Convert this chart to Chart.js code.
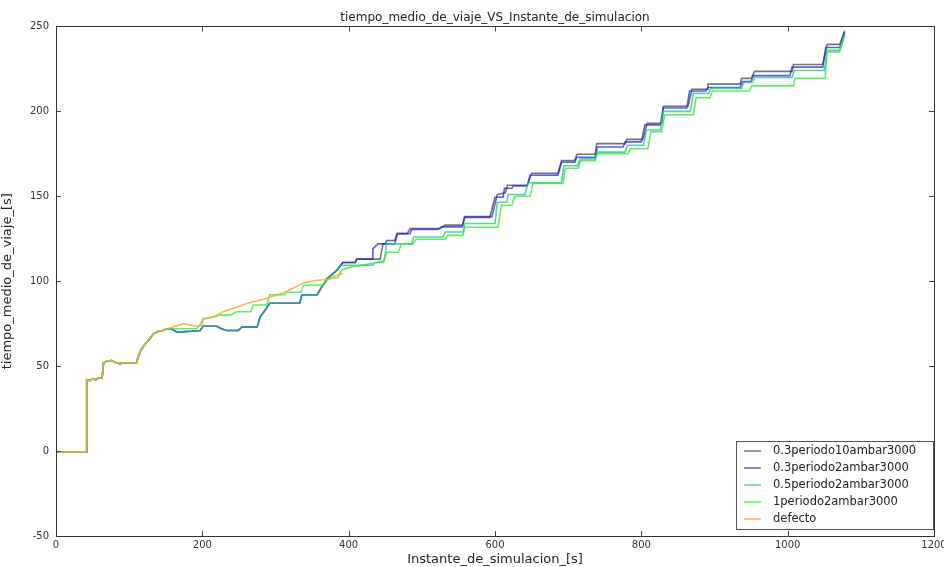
<!DOCTYPE html>
<html>
<head>
<meta charset="utf-8">
<script src="https://cdn.jsdelivr.net/npm/chart.js@4"></script>
<style>
  body { margin: 0; background: #fff; }
  #wrap { width: 944px; height: 567px; }
</style>
</head>
<body>
<div id="wrap"><canvas id="grafico"></canvas></div>
<script>
// tramo comun a todas las simulaciones (0 - 152 s)
const inicioX = [0, 42, 42, 46, 50, 55, 58, 63, 65, 70, 76, 82, 87, 95, 110, 112, 116, 122, 128, 133, 140, 146, 152]
const inicioY = [-0.5, -0.5, 42, 41.5, 42.5, 42, 43, 43, 52, 53, 53.3, 52, 51.5, 52, 52, 55, 59.5, 63, 66, 69, 70.5, 71, 72]

// tramo compartido por los casos 0.3 y 0.5 hasta ~430 s
const subidaX = [156, 160, 165, 185, 197, 201, 220, 226, 233, 249, 254, 275, 279, 286, 292, 333, 336, 357, 363, 372, 384, 392, 409, 411, 432]
const subidaY = [72, 71.5, 70, 70.5, 71, 73.5, 73.5, 72, 71, 71, 73, 73, 79, 83, 87, 87, 92, 92, 96.5, 102, 106.5, 111, 111, 113, 113]

const gris10X = [443, 447, 463, 467, 480, 484, 525, 532, 556, 559, 596, 603, 614, 617, 644, 650, 686, 691, 709, 712, 737, 739, 778, 780, 802, 808, 828, 830, 864, 869, 890, 891, 935, 937, 950, 955, 1006, 1008, 1048, 1054, 1071, 1078]
const gris10Y = [113, 122, 122, 128, 128, 131, 131, 133, 133, 138, 138, 151, 152, 156.5, 156.5, 163.5, 163.5, 171, 171, 174.7, 174.7, 181, 181, 183.5, 183.5, 193, 193, 203, 203, 213, 213, 216, 216, 219.4, 219.4, 223.5, 223.5, 227.6, 227.6, 239.4, 239.4, 247.6]

const azul2X = [433, 440, 450, 452, 463, 466, 484, 486, 522, 527, 555, 558, 593, 600, 611, 613, 623, 625, 644, 648, 686, 691, 709, 712, 737, 740, 775, 778, 800, 805, 826, 830, 862, 866, 888, 891, 935, 938, 950, 953, 1003, 1006, 1048, 1052, 1071, 1078]
const azul2Y = [119, 122, 122, 124, 124, 128, 128, 130.5, 130.5, 132, 132, 137.6, 137.6, 149.4, 149.4, 154.7, 154.7, 156, 156, 162.4, 162.4, 170, 170, 173, 173, 179, 179, 182, 182, 192, 192, 202, 202, 212, 212, 214, 214, 217.6, 217.6, 221, 221, 226, 226, 237.6, 237.6, 246.5]

const turquesaX = [388, 433, 436, 448, 452, 486, 489, 529, 532, 556, 559, 600, 603, 616, 618, 641, 645, 691, 694, 713, 716, 737, 740, 778, 781, 803, 807, 826, 830, 867, 871, 892, 895, 937, 940, 952, 955, 1006, 1009, 1050, 1054, 1071, 1078]
const turquesaY = [109.4, 109.4, 111, 111, 122, 122, 126, 126, 129, 129, 134, 134, 146.5, 146.5, 151, 151, 158, 158, 168, 168, 172, 172, 176, 176, 180, 180, 189, 189, 200, 200, 210.6, 210.6, 213.5, 213.5, 217, 217, 220, 220, 224, 224, 236, 236, 245]

const verdeX = [160, 192, 196, 201, 220, 222, 238, 247, 266, 270, 288, 292, 313, 315, 335, 338, 366, 370, 385, 390, 400, 433, 448, 452, 468, 472, 488, 492, 532, 535, 556, 559, 604, 609, 623, 627, 648, 652, 693, 696, 714, 717, 737, 740, 782, 785, 809, 813, 828, 832, 871, 875, 894, 897, 948, 951, 1008, 1010, 1051, 1054, 1071, 1078]
const verdeY = [72, 72, 74, 77.6, 79.4, 80, 80, 82, 82, 86, 86, 92, 92, 93.5, 93.5, 97.6, 97.6, 102, 102, 106.5, 108, 110.6, 112, 117, 117, 122, 122, 124.7, 124.7, 127, 127, 131.8, 131.8, 144.7, 144.7, 150, 150, 157.6, 157.6, 166.5, 166.5, 171, 171, 175, 175, 178, 178, 188, 188, 198, 198, 208, 208, 212, 212, 215, 215, 219.4, 219.4, 235, 235, 244.7]

const defectoX = [160, 174, 192, 200, 201, 215, 228, 242, 262, 285, 310, 325, 338, 357, 374, 380, 388, 392]
const defectoY = [73, 75, 73.5, 74, 78, 79, 82, 84, 87, 89.5, 93, 96, 99, 100.6, 101, 103, 104, 104.5]

const etiquetas = ['0.3periodo10ambar3000', '0.3periodo2ambar3000', '0.5periodo2ambar3000', '1periodo2ambar3000', 'defecto']
const colores = ['rgba(70,70,70,0.75)', 'rgba(30,30,225,0.72)', 'rgba(40,190,150,0.75)', 'rgba(35,240,35,0.75)', 'rgba(255,165,60,0.85)']

function puntos(xs, ys) {
  return xs.map((x, i) => ({ x: x, y: ys[i] }))
}

const comun = puntos(inicioX, inicioY)
const subida = puntos(subidaX, subidaY)

const series = [
  comun.concat(subida, puntos(gris10X, gris10Y)),
  comun.concat(subida, puntos(azul2X, azul2Y)),
  comun.concat(subida.slice(0, 21), puntos(turquesaX, turquesaY)),
  comun.concat(puntos(verdeX, verdeY)),
  comun.concat(puntos(defectoX, defectoY))
]

// marco completo y marcas de ticks hacia dentro en los cuatro lados
const marco = {
  id: 'marco',
  afterDatasetsDraw(chart) {
    const { ctx, chartArea: a, scales: { x, y } } = chart
    ctx.save()
    ctx.strokeStyle = '#444'
    ctx.lineWidth = 1
    ctx.beginPath()
    x.ticks.forEach(t => {
      const px = Math.round(x.getPixelForValue(t.value)) + 0.5
      ctx.moveTo(px, a.bottom); ctx.lineTo(px, a.bottom - 5)
      ctx.moveTo(px, a.top); ctx.lineTo(px, a.top + 5)
    })
    y.ticks.forEach(t => {
      const py = Math.round(y.getPixelForValue(t.value)) + 0.5
      ctx.moveTo(a.left, py); ctx.lineTo(a.left + 5, py)
      ctx.moveTo(a.right, py); ctx.lineTo(a.right - 5, py)
    })
    ctx.stroke()
    ctx.strokeStyle = '#333'
    ctx.strokeRect(Math.round(a.left) + 0.5, Math.round(a.top) + 0.5, Math.round(a.right - a.left), Math.round(a.bottom - a.top))
    ctx.restore()
  }
}

// leyenda en la esquina inferior derecha, dentro del area
const leyenda = {
  id: 'leyenda',
  afterDraw(chart) {
    const { ctx, chartArea: a } = chart
    const w = 197, h = 88
    const x0 = a.right - w - 1, y0 = a.bottom - h - 7
    ctx.save()
    ctx.fillStyle = '#fff'
    ctx.fillRect(x0, y0, w, h)
    ctx.strokeStyle = '#555'
    ctx.lineWidth = 1
    ctx.strokeRect(x0 + 0.5, y0 + 0.5, w, h)
    ctx.font = '11.5px "DejaVu Sans"'
    ctx.textBaseline = 'middle'
    chart.data.datasets.forEach((ds, i) => {
      const yy = y0 + 10 + i * 17
      ctx.strokeStyle = ds.borderColor
      ctx.lineWidth = 1.5
      ctx.beginPath()
      ctx.moveTo(x0 + 8, yy); ctx.lineTo(x0 + 25, yy)
      ctx.stroke()
      ctx.fillStyle = '#222'
      ctx.fillText(ds.label, x0 + 37, yy)
    })
    ctx.restore()
  }
}

new Chart(document.getElementById('grafico'), {
  type: 'line',
  data: {
    datasets: series.map((d, i) => ({
      label: etiquetas[i],
      data: d,
      borderColor: colores[i],
      borderWidth: 1.6,
      pointRadius: 0,
      tension: 0,
      order: series.length - 1 - i
    }))
  },
  options: {
    responsive: true,
    maintainAspectRatio: false,
    animation: false,
    layout: { padding: { right: 10 } },
    plugins: {
      legend: { display: false },
      tooltip: { enabled: false },
      title: {
        display: true,
        fullSize: false,
        text: 'tiempo_medio_de_viaje_VS_Instante_de_simulacion',
        color: '#222',
        font: { family: 'DejaVu Sans', size: 12, weight: 'normal' },
        padding: { top: 11, bottom: 1 }
      }
    },
    scales: {
      x: {
        type: 'linear',
        min: 0,
        max: 1200,
        ticks: { stepSize: 200, color: '#333', font: { family: 'DejaVu Sans', size: 10 }, padding: 3, maxRotation: 0, callback: v => String(v) },
        grid: { display: false, drawTicks: false },
        border: { display: false },
        title: { display: true, text: 'Instante_de_simulacion_[s]', color: '#222', font: { family: 'DejaVu Sans', size: 13 }, padding: { top: 1, bottom: 0 } },
        afterFit: s => { s.height = 31; s.paddingLeft = 0; s.paddingRight = 0 }
      },
      y: {
        min: -50,
        max: 250,
        ticks: { stepSize: 50, color: '#333', font: { family: 'DejaVu Sans', size: 10 }, padding: 7, callback: v => String(v) },
        grid: { display: false, drawTicks: false },
        border: { display: false },
        title: { display: true, text: 'tiempo_medio_de_viaje_[s]', color: '#222', font: { family: 'DejaVu Sans', size: 13 }, padding: { top: 0, bottom: 4 } },
        afterFit: s => { s.width = 56 }
      }
    }
  },
  plugins: [marco, leyenda]
})
</script>
</body>
</html>
